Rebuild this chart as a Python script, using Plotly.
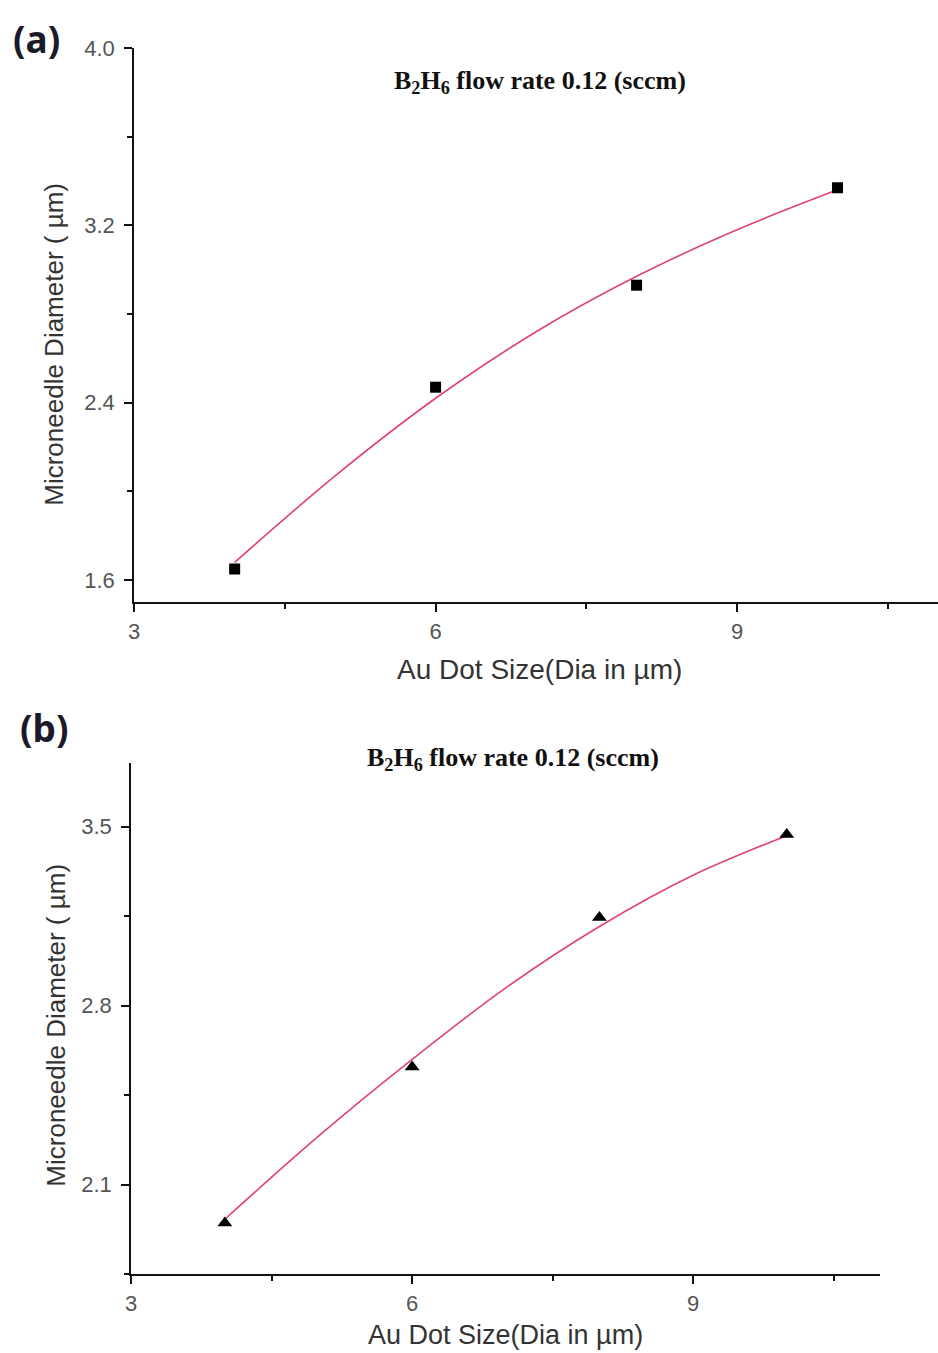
import plotly.graph_objects as go

W, H = 938, 1353

# ---- data ----
x_a = [4, 6, 8, 10]
y_a = [1.65, 2.47, 2.93, 3.37]
fit_x_a = [4, 5, 6, 7, 8, 9, 10]
fit_y_a = [1.68, 2.07, 2.42, 2.72, 2.97, 3.18, 3.36]

x_b = [4, 6, 8, 10]
y_b = [1.95, 2.56, 3.145, 3.47]
fit_x_b = [4, 5, 6, 7, 8, 9, 10]
fit_y_b = [1.965, 2.29, 2.59, 2.87, 3.11, 3.31, 3.465]

title_text = "<b>B<sub>2</sub>H<sub>6</sub> flow rate 0.12 (sccm)</b>"
x_title = "Au Dot Size(Dia in µm)"
y_title = "Microneedle Diameter ( µm)"


def px_x(p):
    return p / W


def px_y(t):
    # small empirical correction for the rendered vertical offset
    p = t - 9 + 8 * t / H
    return 1 - p / H


fig = go.Figure()

line_col = "#e0446e"

fig.add_trace(go.Scatter(x=fit_x_a, y=fit_y_a, mode="lines",
                         line=dict(color=line_col, width=1.6, shape="spline"),
                         xaxis="x", yaxis="y", showlegend=False, hoverinfo="skip"))
fig.add_trace(go.Scatter(x=x_a, y=y_a, mode="markers",
                         marker=dict(symbol="square", size=11, color="black"),
                         xaxis="x", yaxis="y", showlegend=False))
fig.add_trace(go.Scatter(x=fit_x_b, y=fit_y_b, mode="lines",
                         line=dict(color=line_col, width=1.6, shape="spline"),
                         xaxis="x2", yaxis="y2", showlegend=False, hoverinfo="skip"))
fig.add_trace(go.Scatter(x=x_b, y=y_b, mode="markers",
                         marker=dict(symbol="triangle-up", size=13, color="black"),
                         xaxis="x2", yaxis="y2", showlegend=False))

tickfont = dict(family="Liberation Sans, Arial, sans-serif", size=22, color="#555")
axis_common = dict(showline=True, linecolor="#111", linewidth=2, ticks="outside", ticklen=8,
                   tickwidth=2, tickcolor="#111", showgrid=False, zeroline=False, tickfont=tickfont,
                   mirror=False)
minor_common = dict(ticks="outside", ticklen=5, tickwidth=2, tickcolor="#111")

fig.update_layout(
    width=W, height=H,
    margin=dict(l=0, r=0, t=0, b=0),
    paper_bgcolor="white", plot_bgcolor="white",
    xaxis=dict(domain=[px_x(129), 1.0], range=[3, 11], tickmode="linear", tick0=3, dtick=3,
               minor=dict(dtick=1.5, tick0=3, **minor_common),
               anchor="y", **axis_common),
    yaxis=dict(domain=[px_y(601), px_y(45)], range=[1.5, 4.0], tickmode="linear", tick0=1.6, dtick=0.8,
               tickformat=".1f", ticklabelstandoff=5,
               minor=dict(dtick=0.4, tick0=1.6, **minor_common),
               anchor="x", **axis_common),
    xaxis2=dict(domain=[px_x(126), px_x(880)], range=[3, 11], tickmode="linear", tick0=3, dtick=3,
                minor=dict(dtick=1.5, tick0=3, **minor_common),
                anchor="y2", **axis_common),
    yaxis2=dict(domain=[px_y(1275), px_y(762)], range=[1.75, 3.75], tickmode="linear", tick0=2.1, dtick=0.7,
                tickformat=".1f", ticklabelstandoff=5,
                minor=dict(dtick=0.35, tick0=2.1, **minor_common),
                anchor="x2", **axis_common),
)

ann = []
label_font = dict(family="Noto Sans, DejaVu Sans, sans-serif", size=37, color="#1a1a2a")
ann.append(dict(text="<b>(a)</b>", x=px_x(5), y=px_y(36), xref="paper", yref="paper",
                xanchor="left", yanchor="middle", showarrow=False, font=label_font))
ann.append(dict(text="<b>(b)</b>", x=px_x(12), y=px_y(727), xref="paper", yref="paper",
                xanchor="left", yanchor="middle", showarrow=False, font=label_font))

title_font = dict(family="Liberation Serif, Times New Roman, serif", size=26, color="#111")
ann.append(dict(text=title_text, x=px_x(537), y=px_y(79), xref="paper", yref="paper",
                xanchor="center", yanchor="middle", showarrow=False, font=title_font))
ann.append(dict(text=title_text, x=px_x(510), y=px_y(758), xref="paper", yref="paper",
                xanchor="center", yanchor="middle", showarrow=False, font=title_font))

xt_font = dict(family="Liberation Sans, Arial, sans-serif", size=28, color="#333")
xt_font_b = dict(family="Liberation Sans, Arial, sans-serif", size=27, color="#333")
yt_font = dict(family="Liberation Sans, Arial, sans-serif", size=26, color="#333")
ann.append(dict(text=x_title, x=px_x(537), y=px_y(668), xref="paper", yref="paper",
                xanchor="center", yanchor="middle", showarrow=False, font=xt_font))
ann.append(dict(text=x_title, x=px_x(503), y=px_y(1336), xref="paper", yref="paper",
                xanchor="center", yanchor="middle", showarrow=False, font=xt_font_b))
ann.append(dict(text=y_title, x=px_x(48), y=px_y(342), xref="paper", yref="paper", textangle=-90,
                xanchor="center", yanchor="middle", showarrow=False, font=yt_font))
ann.append(dict(text=y_title, x=px_x(50), y=px_y(1025), xref="paper", yref="paper", textangle=-90,
                xanchor="center", yanchor="middle", showarrow=False, font=yt_font))

fig.update_layout(annotations=ann)

fig.write_html("out.html")
